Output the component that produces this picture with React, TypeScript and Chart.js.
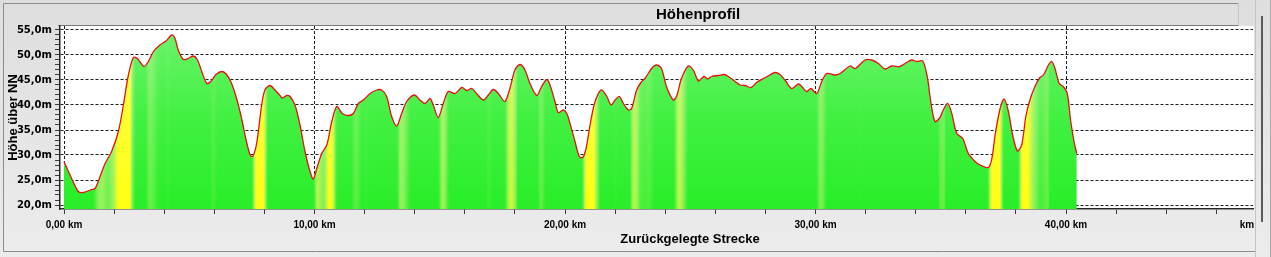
import React, { useEffect, useRef } from "react";
import { Chart, registerables } from "chart.js";

Chart.register(...registerables);

const chartTitle = "Höhenprofil";
const xAxisTitle = "Zurückgelegte Strecke";
const yAxisTitle = "Höhe über NN";
const xUnitLabel = "km";

const distanceKm = [
  0.0, 0.24, 0.57, 0.77, 1.04, 1.24, 1.44, 1.64, 1.9, 2.17,
  2.37, 2.57, 2.77, 2.93, 3.19, 3.37, 3.57, 3.83, 4.07, 4.3,
  4.43, 4.56, 4.76, 4.96, 5.16, 5.32, 5.5, 5.7, 5.86, 6.07,
  6.3, 6.49, 6.69, 6.89, 7.09, 7.27, 7.43, 7.53, 7.69, 7.89,
  8.02, 8.22, 8.42, 8.62, 8.72, 8.89, 9.02, 9.22, 9.42, 9.62,
  9.82, 9.95, 10.09, 10.29, 10.49, 10.69, 10.89, 11.11, 11.35, 11.55,
  11.75, 11.95, 12.22, 12.48, 12.68, 12.88, 13.08, 13.28, 13.48, 13.68,
  13.99, 14.21, 14.41, 14.61, 14.74, 14.94, 15.14, 15.34, 15.61, 15.88,
  16.08, 16.28, 16.47, 16.74, 16.94, 17.14, 17.34, 17.6, 17.8, 18.0,
  18.2, 18.4, 18.6, 18.87, 19.07, 19.27, 19.4, 19.6, 19.73, 19.93,
  20.07, 20.2, 20.4, 20.57, 20.71, 20.84, 21.0, 21.16, 21.33, 21.47,
  21.67, 21.84, 22.0, 22.17, 22.33, 22.53, 22.66, 22.86, 23.06, 23.19,
  23.46, 23.65, 23.85, 24.05, 24.32, 24.45, 24.65, 24.92, 25.12, 25.32,
  25.45, 25.56, 25.69, 25.85, 26.12, 26.36, 26.52, 26.79, 26.99, 27.19,
  27.43, 27.65, 27.92, 28.18, 28.38, 28.58, 28.78, 29.05, 29.32, 29.45,
  29.65, 29.82, 30.05, 30.25, 30.45, 30.78, 30.98, 31.38, 31.58, 31.98,
  32.24, 32.51, 32.77, 33.04, 33.37, 33.64, 33.84, 34.04, 34.28, 34.46,
  34.6, 34.77, 34.97, 35.1, 35.28, 35.44, 35.64, 35.88, 36.1, 36.37,
  36.57, 36.9, 37.04, 37.17, 37.37, 37.53, 37.7, 37.87, 38.06, 38.23,
  38.4, 38.56, 38.76, 38.96, 39.1, 39.3, 39.43, 39.56, 39.73, 39.89,
  40.05, 40.19, 40.32, 40.43,
];

const elevationM = [
  28.7, 26.0, 22.7, 22.5, 23.0, 23.3, 25.7, 28.3, 30.7, 34.7,
  40.0, 46.0, 49.5, 49.3, 47.7, 48.7, 50.7, 52.0, 52.8, 54.0,
  53.3, 51.0, 49.1, 49.3, 49.8, 49.1, 46.7, 44.3, 44.7, 46.1,
  46.7, 46.1, 44.3, 41.3, 37.3, 33.0, 30.0, 29.7, 32.3, 40.0,
  43.0, 43.9, 43.0, 41.9, 41.4, 41.9, 41.7, 40.0, 36.0, 30.7,
  26.7, 25.2, 27.3, 30.3, 32.0, 36.7, 39.7, 38.3, 37.9, 38.3,
  40.3, 41.0, 42.3, 43.0, 43.0, 41.7, 37.7, 35.8, 38.3, 40.7,
  42.0, 41.0, 40.3, 41.3, 40.0, 37.5, 40.3, 42.7, 42.3, 43.5,
  42.9, 43.3, 42.3, 41.0, 42.0, 43.1, 42.3, 40.7, 43.3, 47.0,
  48.1, 47.0, 44.3, 41.9, 43.7, 45.1, 44.0, 40.7, 38.5, 39.0,
  38.3, 36.3, 32.7, 29.7, 29.5, 31.3, 36.0, 40.0, 42.3, 43.0,
  41.7, 40.0, 41.0, 41.7, 40.3, 39.0, 39.3, 43.0, 44.7, 45.3,
  47.3, 48.0, 47.3, 43.7, 41.0, 41.7, 45.3, 47.8, 47.0, 44.8,
  45.3, 45.7, 45.2, 45.7, 45.9, 46.1, 45.7, 44.7, 44.0, 43.9,
  43.5, 44.5, 45.3, 46.0, 46.5, 46.1, 45.0, 43.3, 44.2, 43.7,
  42.7, 43.3, 42.3, 44.7, 46.3, 46.0, 46.3, 47.8, 47.3, 49.0,
  49.0, 48.3, 47.2, 47.8, 47.7, 48.5, 49.0, 48.7, 48.8, 45.7,
  40.7, 36.7, 37.5, 39.0, 40.3, 38.3, 34.3, 33.3, 30.3, 28.7,
  28.0, 27.5, 29.3, 34.0, 39.3, 41.2, 38.7, 34.0, 30.8, 32.0,
  37.8, 41.0, 43.7, 45.5, 46.0, 48.0, 48.7, 47.3, 44.3, 43.7,
  42.3, 36.7, 32.7, 30.3,
];

// axis ticks (every tick mark) and the ones that carry a label / grid line
const xTickValues = [0, 2, 4, 6, 8, 10, 12, 14, 16, 18, 20, 22, 24, 26, 28, 30, 32, 34, 36, 38, 40, 42, 44, 46];
const xLabelValues = [0, 10, 20, 30, 40];
const yTickValues = [
  20, 21, 22, 23, 24, 25, 26, 27, 28, 29, 30, 31, 32, 33, 34, 35, 36, 37,
  38, 39, 40, 41, 42, 43, 44, 45, 46, 47, 48, 49, 50, 51, 52, 53, 54, 55,
];
const yLabelValues = [20, 25, 30, 35, 40, 45, 50, 55];

const W = 1271;
const H = 257;

function elevationAt(km: number): number {
  if (km <= distanceKm[0]) return elevationM[0];
  const n = distanceKm.length;
  if (km >= distanceKm[n - 1]) return elevationM[n - 1];
  for (let i = 1; i < n; i++) {
    if (km <= distanceKm[i]) {
      const k0 = distanceKm[i - 1], k1 = distanceKm[i];
      const t = (km - k0) / (k1 - k0);
      return elevationM[i - 1] + (elevationM[i] - elevationM[i - 1]) * t;
    }
  }
  return elevationM[n - 1];
}

function gradeAt(km: number): number {
  const w = 0.14;
  return (elevationAt(km + w) - elevationAt(km - w)) / (2 * w);
}

function mix(a: number[], b: number[], t: number): number[] {
  return [0, 1, 2].map((i) => Math.round(a[i] + (b[i] - a[i]) * t));
}

function gradeColor(g: number): string {
  const t = Math.max(0, Math.min(1, (g - 4) / 16));
  const c0 = [40, 238, 40];
  const c1 = [140, 242, 90];
  const c2 = [255, 255, 20];
  const c = t < 0.5 ? mix(c0, c1, t / 0.5) : mix(c1, c2, (t - 0.5) / 0.5);
  return `rgb(${c[0]},${c[1]},${c[2]})`;
}

let patternCache: { key: string; pattern: CanvasPattern | null } | null = null;

function buildFillPattern(chart: any): CanvasPattern | string {
  const area = chart.chartArea;
  const xs = chart.scales.x;
  if (!area || !xs) return "rgb(60,235,60)";
  const key = `${area.left},${area.top},${area.right},${area.bottom},${chart.width},${chart.height}`;
  if (patternCache && patternCache.key === key && patternCache.pattern) return patternCache.pattern;
  const off = document.createElement("canvas");
  off.width = chart.width;
  off.height = chart.height;
  const g = off.getContext("2d")!;
  const lg = g.createLinearGradient(area.left, 0, area.right, 0);
  const span = area.right - area.left;
  for (let px = area.left; px <= area.right; px += 2) {
    const km = xs.getValueForPixel(px);
    lg.addColorStop((px - area.left) / span, gradeColor(gradeAt(km)));
  }
  g.fillStyle = lg;
  g.fillRect(area.left, area.top, span, area.bottom - area.top);
  const vg = g.createLinearGradient(0, area.top, 0, area.bottom);
  vg.addColorStop(0, "rgba(255,255,255,0.32)");
  vg.addColorStop(0.5, "rgba(255,255,255,0.12)");
  vg.addColorStop(1, "rgba(255,255,255,0)");
  g.fillStyle = vg;
  g.fillRect(area.left, area.top, span, area.bottom - area.top);
  const pattern = chart.ctx.createPattern(off, "no-repeat");
  patternCache = { key, pattern };
  return pattern || "rgb(60,235,60)";
}

const framePlugin = {
  id: "frame",
  beforeDraw(chart: any) {
    const { ctx, width, height } = chart;
    ctx.save();
    const bg = ctx.createLinearGradient(0, 0, 0, height);
    bg.addColorStop(0, "#dedede");
    bg.addColorStop(1, "#ececec");
    ctx.fillStyle = bg;
    ctx.fillRect(0, 0, width, height);
    // plot area
    ctx.fillStyle = "#ffffff";
    ctx.fillRect(60, 26, 1254 - 60, 210 - 26);
    // outer frame
    ctx.strokeStyle = "#8c8c8c";
    ctx.lineWidth = 1;
    ctx.beginPath();
    ctx.moveTo(3.5, 251.5);
    ctx.lineTo(3.5, 3.5);
    ctx.lineTo(1238.5, 3.5);
    ctx.moveTo(3.5, 251.5);
    ctx.lineTo(1255.5, 251.5);
    ctx.stroke();
    // line above plot
    ctx.strokeStyle = "#7a7a7a";
    ctx.beginPath();
    ctx.moveTo(58, 25.5);
    ctx.lineTo(1238.5, 25.5);
    ctx.stroke();
    // right panel
    ctx.strokeStyle = "#c4c4c4";
    ctx.beginPath();
    ctx.moveTo(1255.5, 0);
    ctx.lineTo(1255.5, height);
    ctx.moveTo(1238.5, 3.5);
    ctx.lineTo(1238.5, 25.5);
    ctx.stroke();
    ctx.strokeStyle = "#a8a8a8";
    ctx.beginPath();
    ctx.moveTo(1270.5, 0);
    ctx.lineTo(1270.5, height);
    ctx.stroke();
    ctx.fillStyle = "#5a5a5a";
    ctx.fillRect(1261, 16, 2, 206);
    ctx.restore();
  },
  afterDraw(chart: any) {
    const { ctx } = chart;
    ctx.save();
    ctx.fillStyle = "#000000";
    ctx.textAlign = "center";
    ctx.textBaseline = "alphabetic";
    ctx.font = 'bold 15px "Liberation Sans", Arial, sans-serif';
    ctx.fillText(chartTitle, 698, 18.5);
    ctx.font = 'bold 13px "Liberation Sans", Arial, sans-serif';
    ctx.fillText(xAxisTitle, 690, 243);
    ctx.save();
    ctx.translate(16.5, 117.5);
    ctx.rotate(-Math.PI / 2);
    ctx.fillText(yAxisTitle, 0, 0);
    ctx.restore();
    ctx.font = 'bold 10px "Liberation Sans", Arial, sans-serif';
    ctx.textBaseline = "middle";
    ctx.fillText(xUnitLabel, 1247, 225.5);
    ctx.restore();
  },
};

const fmtKm = (v: number) => v.toFixed(2).replace(".", ",") + " km";
const fmtM = (v: number) => v.toFixed(1).replace(".", ",") + "m";

export default function App() {
  const ref = useRef<HTMLCanvasElement | null>(null);

  useEffect(() => {
    const canvas = ref.current;
    if (!canvas) return;
    patternCache = null;
    const points = distanceKm.map((x, i) => ({ x, y: elevationM[i] }));
    const chart = new Chart(canvas, {
      type: "line",
      data: {
        datasets: [
          {
            label: yAxisTitle,
            data: points,
            borderColor: "rgb(228,18,18)",
            borderWidth: 1.3,
            pointRadius: 0,
            tension: 0.3,
            fill: "start",
            backgroundColor: (c: any) => buildFillPattern(c.chart),
          },
        ],
      },
      options: {
        responsive: false,
        animation: false,
        events: [],
        layout: { padding: { left: 0, top: 26, right: 18, bottom: 0 } },
        plugins: {
          legend: { display: false },
          title: { display: false },
          tooltip: { enabled: false },
        },
        scales: {
          x: {
            type: "linear",
            min: -0.16,
            max: 47.465,
            z: 1,
            afterFit: (s: any) => {
              s.height = 48;
            },
            afterBuildTicks: (s: any) => {
              s.ticks = xTickValues.map((v) => ({ value: v }));
            },
            ticks: {
              autoSkip: false,
              maxRotation: 0,
              minRotation: 0,
              padding: 5,
              color: "#000",
              font: { family: '"Liberation Sans", Arial, sans-serif', size: 10, weight: "bold" },
              callback: (v: any) => (xLabelValues.includes(Number(v)) ? fmtKm(Number(v)) : ""),
            },
            grid: {
              color: (c: any) =>
                c.tick && xLabelValues.includes(c.tick.value) ? "#1e1e1e" : "rgba(0,0,0,0)",
              lineWidth: 1,
              tickColor: "#3a3a3a",
              tickLength: 5,
              drawTicks: true,
            },
            border: { display: true, color: "#262626", width: 1.5, dash: [3, 2] },
          },
          y: {
            type: "linear",
            min: 19.2,
            max: 55.8,
            z: 1,
            afterFit: (s: any) => {
              s.width = 60;
            },
            afterBuildTicks: (s: any) => {
              s.ticks = yTickValues.map((v) => ({ value: v }));
            },
            ticks: {
              autoSkip: false,
              padding: 3,
              color: "#000",
              font: { family: '"DejaVu Sans", Verdana, sans-serif', size: 10, weight: "bold" },
              callback: (v: any) => (yLabelValues.includes(Number(v)) ? fmtM(Number(v)) : ""),
            },
            grid: {
              color: (c: any) =>
                c.tick && yLabelValues.includes(c.tick.value) ? "#1e1e1e" : "rgba(0,0,0,0)",
              lineWidth: 1,
              tickColor: "#3a3a3a",
              tickLength: 5,
              drawTicks: true,
            },
            border: { display: true, color: "#262626", width: 1.5, dash: [3, 2] },
          },
        },
      } as any,
      plugins: [framePlugin],
    });
    return () => {
      chart.destroy();
    };
  }, []);

  return (
    <div style={{ position: "fixed", left: 0, top: 0, width: W, height: H, margin: 0 }}>
      <canvas ref={ref} width={W} height={H} style={{ display: "block", width: W, height: H }} />
    </div>
  );
}
